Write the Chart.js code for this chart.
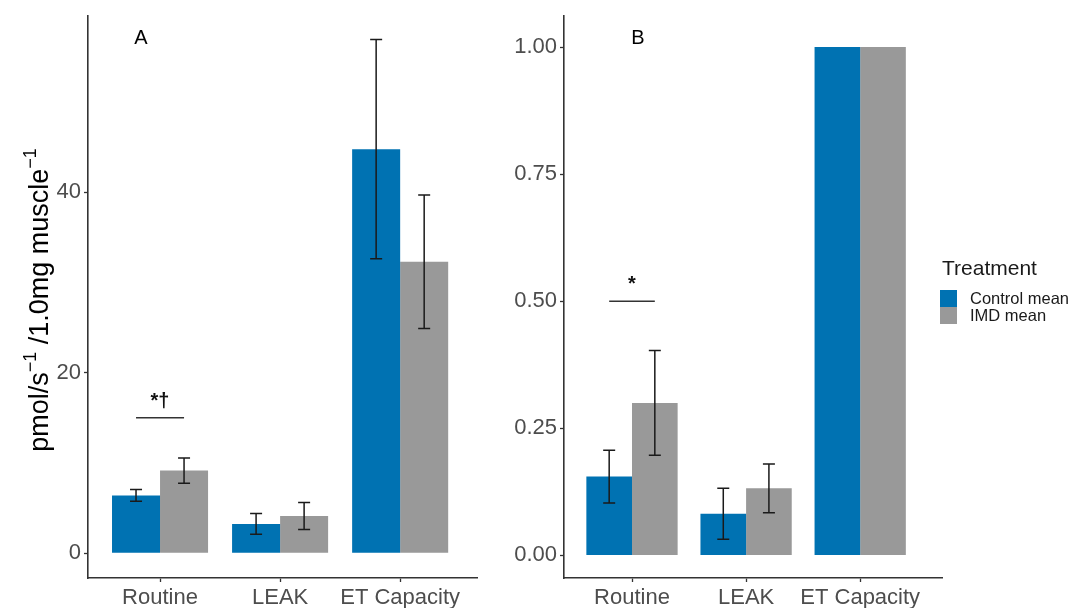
<!DOCTYPE html>
<html>
<head>
<meta charset="utf-8">
<script src="https://cdn.jsdelivr.net/npm/chart.js@4/dist/chart.umd.min.js"></script>
<style>
  body { margin: 0; background: #fff; width: 1075px; height: 608px; overflow: hidden; position: relative;
         font-family: "Liberation Sans", Arial, sans-serif; }
  #wrapA { position: absolute; left: 0; top: 0; }
  #wrapB { position: absolute; left: 480px; top: 0; }
  #legend { position: absolute; left: 940px; top: 255px; color: #1a1a1a; }
  #legend .title { font-size: 21px; line-height: 26px; margin-bottom: 9px; margin-left: 2px; }
  #legend .item { display: flex; align-items: center; height: 17px; font-size: 16.5px; }
  #legend .key { width: 17px; height: 17px; margin-right: 13px; }
</style>
</head>
<body>
<div id="wrapA"><canvas id="chartA" width="480" height="608"></canvas></div>
<div id="wrapB"><canvas id="chartB" width="470" height="608"></canvas></div>
<div id="legend"></div>

<script>
// Mitochondrial respiration: absolute (A) and ET-normalised (B) rates
const categories = ["Routine", "LEAK", "ET Capacity"];
const seriesNames = ["Control mean", "IMD mean"];
const seriesColors = ["#0072B2", "#999999"];

const controlA    = [6.39, 3.23, 44.77];
const controlErrA = [0.65, 1.15, 12.16];
const imdA        = [9.15, 4.11, 32.29];
const imdErrA     = [1.40, 1.50, 7.40];

const controlB    = [0.155, 0.082, 1.0];
const controlErrB = [0.052, 0.050, 0];
const imdB        = [0.300, 0.132, 1.0];
const imdErrB     = [0.103, 0.048, 0];

const ticksA = [0, 20, 40];
const ticksB = [0, 0.25, 0.50, 0.75, 1.00];

// significance bar over Routine
const sigA = { category: 0, y: 15, text: "*\u2020" };
const sigB = { category: 0, y: 0.5, text: "*" };

const FONT = "'Liberation Sans', Arial, sans-serif";
const AXIS = "#333333";

// whiskers: mean +/- error, drawn at each bar centre
const errorBars = {
  id: "errorBars",
  afterDatasetsDraw(chart) {
    const ctx = chart.ctx, y = chart.scales.y;
    chart.data.datasets.forEach((ds, di) => {
      const meta = chart.getDatasetMeta(di);
      meta.data.forEach((bar, i) => {
        const e = ds.errors[i];
        if (!e) return;
        const v = ds.data[i].y;
        const top = y.getPixelForValue(v + e), bot = y.getPixelForValue(v - e);
        ctx.save();
        ctx.strokeStyle = "#1a1a1a";
        ctx.lineWidth = 1.5;
        ctx.beginPath();
        ctx.moveTo(bar.x, top); ctx.lineTo(bar.x, bot);
        ctx.moveTo(bar.x - 6, top); ctx.lineTo(bar.x + 6, top);
        ctx.moveTo(bar.x - 6, bot); ctx.lineTo(bar.x + 6, bot);
        ctx.stroke();
        ctx.restore();
      });
    });
  }
};

const sigMarker = {
  id: "sigMarker",
  afterDatasetsDraw(chart, args, opts) {
    if (!opts || !opts.text) return;
    const ctx = chart.ctx;
    const x0 = chart.getDatasetMeta(0).data[opts.category].x;
    const x1 = chart.getDatasetMeta(1).data[opts.category].x;
    const py = chart.scales.y.getPixelForValue(opts.y);
    ctx.save();
    ctx.strokeStyle = "#333";
    ctx.lineWidth = 1.5;
    ctx.beginPath();
    ctx.moveTo(x0, py); ctx.lineTo(x1, py);
    ctx.stroke();
    ctx.fillStyle = "#111";
    ctx.font = "bold 20px " + FONT;
    ctx.textAlign = "center";
    ctx.textBaseline = "alphabetic";
    ctx.fillText(opts.text, (x0 + x1) / 2, py - 11);
    ctx.restore();
  }
};

const panelLetter = {
  id: "panelLetter",
  afterDraw(chart, args, opts) {
    if (!opts || !opts.text) return;
    const ctx = chart.ctx, a = chart.chartArea;
    ctx.save();
    ctx.fillStyle = "#000";
    ctx.font = "20px " + FONT;
    ctx.textAlign = "center";
    ctx.textBaseline = "middle";
    ctx.fillText(opts.text, a.left + opts.dx, a.top + opts.dy);
    ctx.restore();
  }
};

// rotated y title with real superscripts
const yTitle = {
  id: "yTitle",
  afterDraw(chart, args, opts) {
    if (!opts || !opts.parts) return;
    const ctx = chart.ctx, size = opts.size, sup = Math.round(size * 0.68);
    ctx.save();
    let total = 0;
    opts.parts.forEach(p => {
      ctx.font = (p.sup ? sup : size) + "px " + FONT;
      p.w = ctx.measureText(p.t).width;
      total += p.w;
    });
    ctx.translate(opts.x, opts.y);
    ctx.rotate(-Math.PI / 2);
    ctx.fillStyle = "#000";
    ctx.textBaseline = "alphabetic";
    ctx.textAlign = "left";
    let x = -total / 2;
    const base = size * 0.36;
    opts.parts.forEach(p => {
      ctx.font = (p.sup ? sup : size) + "px " + FONT;
      ctx.fillText(p.t, x, p.sup ? base - size * 0.45 : base);
      x += p.w;
    });
    ctx.restore();
  }
};

function makeDatasets(ctrl, ctrlErr, imd, imdErr) {
  return [
    { label: seriesNames[0], data: ctrl.map((v, i) => ({ x: i + 1, y: v })), errors: ctrlErr,
      backgroundColor: seriesColors[0], borderWidth: 0 },
    { label: seriesNames[1], data: imd.map((v, i) => ({ x: i + 1, y: v })), errors: imdErr,
      backgroundColor: seriesColors[1], borderWidth: 0 }
  ];
}

function makeChart(id, cfg) {
  return new Chart(document.getElementById(id), {
    type: "bar",
    data: { datasets: makeDatasets(...cfg.series) },
    plugins: [errorBars, sigMarker, panelLetter, yTitle],
    options: {
      responsive: false,
      animation: false,
      layout: { padding: { top: 13, right: cfg.padRight, left: 0, bottom: 0 } },
      datasets: { bar: { categoryPercentage: 0.8, barPercentage: 1.0 } },
      plugins: {
        legend: { display: false },
        tooltip: { enabled: false },
        sigMarker: cfg.sig,
        panelLetter: cfg.letter,
        yTitle: cfg.title || {}
      },
      scales: {
        x: {
          type: "linear",
          min: cfg.xMin, max: cfg.xMax,
          offset: false,
          afterBuildTicks: s => { s.ticks = categories.map((c, i) => ({ value: i + 1 })); },
          afterFit: s => { s.height = 30; },
          grid: { offset: false, drawOnChartArea: false, drawTicks: true, tickLength: 4,
                  tickColor: AXIS, tickWidth: 1.3 },
          border: { display: true, color: AXIS, width: 1.6 },
          ticks: { autoSkip: false, maxRotation: 0, padding: 3, color: "#4d4d4d",
                   font: { size: 22, family: FONT },
                   callback: v => categories[Math.round(v) - 1] }
        },
        y: {
          min: cfg.yMin, max: cfg.yMax,
          afterBuildTicks: s => { s.ticks = cfg.ticks.map(v => ({ value: v })); },
          afterFit: s => { s.width = cfg.yWidth; },
          grid: { drawOnChartArea: false, drawTicks: true, tickLength: 4,
                  tickColor: AXIS, tickWidth: 1.3 },
          border: { display: true, color: AXIS, width: 1.6 },
          ticks: { padding: 3, color: "#4d4d4d", font: { size: 22, family: FONT },
                   callback: cfg.tickFmt }
        }
      }
    }
  });
}

makeChart("chartA", {
  series: [controlA, controlErrA, imdA, imdErrA],
  xMin: 0.4, xMax: 3.64, padRight: 3, yWidth: 88,
  yMin: -2.755, yMax: 59.5, ticks: ticksA, tickFmt: v => String(v),
  sig: sigA,
  letter: { text: "A", dx: 53, dy: 22 },
  title: { size: 27, x: 38, y: 300, parts: [
    { t: "pmol/s" }, { t: "\u22121", sup: true }, { t: " /1.0mg muscle" }, { t: "\u22121", sup: true }
  ] }
});

makeChart("chartB", {
  series: [controlB, controlErrB, imdB, imdErrB],
  xMin: 0.404, xMax: 3.717, padRight: 8, yWidth: 84,
  yMin: -0.0444, yMax: 1.0606, ticks: ticksB, tickFmt: v => Number(v).toFixed(2),
  sig: sigB,
  letter: { text: "B", dx: 74, dy: 22 }
});

// legend
const legend = document.getElementById("legend");
legend.innerHTML = '<div class="title">Treatment</div>' +
  seriesNames.map((n, i) =>
    `<div class="item"><span class="key" style="background:${seriesColors[i]}"></span>${n}</div>`
  ).join("");
</script>
</body>
</html>
